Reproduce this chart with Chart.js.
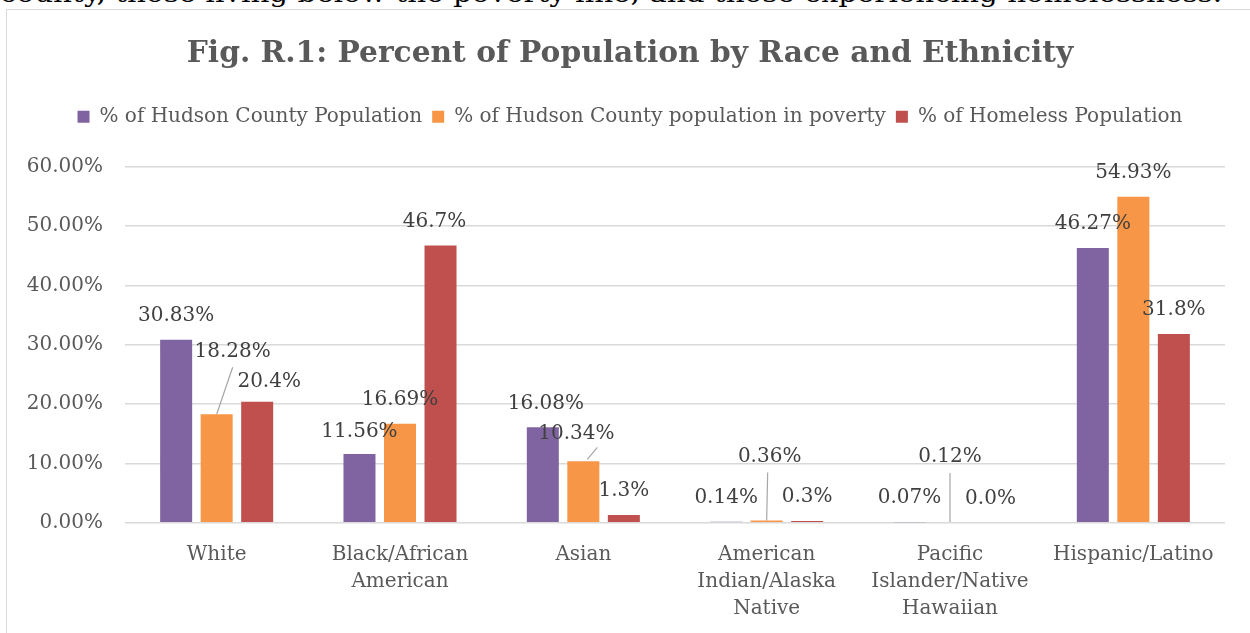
<!DOCTYPE html>
<html><head><meta charset="utf-8">
<script src="https://cdn.jsdelivr.net/npm/chart.js@4.4.1/dist/chart.umd.min.js"></script>
<style>
html,body{margin:0;padding:0;background:#fff;overflow:hidden;}
#wrap{position:relative;width:1250px;height:633px;overflow:hidden;}
#frame{position:absolute;left:6px;top:9px;width:1400px;height:800px;border:1.5px solid #d9d9d9;box-sizing:border-box;}
#lead{position:absolute;left:0;top:0;}
#c{position:absolute;left:0;top:0;}
</style></head><body>
<div id="wrap">
<svg id="lead" width="1250" height="20"><text x="0" y="2" font-family="DejaVu Serif" font-size="24" fill="#000" textLength="1222" lengthAdjust="spacingAndGlyphs">county, those living below the poverty line, and those experiencing homelessness.</text></svg>
<div id="frame"></div>
<canvas id="c" width="1250" height="633"></canvas>
</div>
<script>
const categories = [['White'], ['Black/African','American'], ['Asian'], ['American','Indian/Alaska','Native'], ['Pacific','Islander/Native','Hawaiian'], ['Hispanic/Latino']];
const seriesNames = ['% of Hudson County Population', '% of Hudson County population in poverty', '% of Homeless Population'];
const countyPct = [30.83, 11.56, 16.08, 0.14, 0.07, 46.27];
const povertyPct = [18.28, 16.69, 10.34, 0.36, 0.12, 54.93];
const homelessPct = [20.4, 46.7, 1.3, 0.3, 0.0, 31.8];
const labelDecimals = [2, 2, 1];
const yMin = 0, yMax = 60, yStep = 10;

const FONT = "'DejaVu Serif', serif";
const colors = ['#8064A2', '#F79646', '#C0504D'];

// label placement (pixel offsets from the bar top), not data
const labelPlacement = {
  def: [0, -24],
  custom: {'1-0':[16,-62], '2-0':[12,-20], '0-1':[0,-22], '2-1':[-6,-24], '0-2':[3,-23], '1-2':[-7,-28], '1-3':[3,-64], '1-4':[0,-65]},
  leaders: {'1-0':[[0,0],[16,-47]], '1-3':[[0,0],[1,-48]], '1-4':[[0,0],[0,-49]], '1-2':[[4,-2],[14,-14]]}
};

const barLabels = {
  id: 'barLabels',
  afterDatasetsDraw(chart) {
    const ctx = chart.ctx;
    ctx.save();
    ctx.font = "20px " + FONT;
    ctx.textAlign = 'center';
    ctx.textBaseline = 'middle';
    chart.data.datasets.forEach((ds, di) => {
      const meta = chart.getDatasetMeta(di);
      meta.data.forEach((el, i) => {
        const key = di + '-' + i;
        const off = labelPlacement.custom[key] || labelPlacement.def;
        const ld = labelPlacement.leaders[key];
        if (ld) {
          ctx.strokeStyle = '#a6a6a6';
          ctx.lineWidth = 1.2;
          ctx.beginPath();
          ctx.moveTo(el.x + ld[0][0], el.y + ld[0][1]);
          ctx.lineTo(el.x + ld[1][0], el.y + ld[1][1]);
          ctx.stroke();
        }
        ctx.fillStyle = '#404040';
        ctx.fillText(ds.data[i].toFixed(labelDecimals[di]) + '%', el.x + off[0], el.y + off[1]);
      });
    });
    ctx.restore();
  }
};

new Chart(document.getElementById('c'), {
  type: 'bar',
  data: {
    labels: categories,
    datasets: [
      {label: seriesNames[0], data: countyPct, backgroundColor: colors[0]},
      {label: seriesNames[1], data: povertyPct, backgroundColor: colors[1]},
      {label: seriesNames[2], data: homelessPct, backgroundColor: colors[2]}
    ]
  },
  options: {
    responsive: false,
    animation: false,
    devicePixelRatio: 1,
    categoryPercentage: 0.663,
    barPercentage: 0.79,
    layout: {padding: {left: 10, right: 0, top: 0, bottom: 0}},
    plugins: {
      title: {
        display: true,
        text: 'Fig. R.1: Percent of Population by Race and Ethnicity',
        color: '#595959',
        font: {family: FONT, size: 29.7, weight: 'bold', lineHeight: 1.2},
        padding: {top: 36.2, bottom: 25}
      },
      subtitle: {
        display: true, text: '', weight: 500,
        font: {size: 1, lineHeight: 1},
        padding: {top: 14, bottom: 14.8}
      },
      legend: {
        position: 'top',
        labels: {
          color: '#595959',
          font: {family: FONT, size: 20},
          boxWidth: 12, boxHeight: 12,
          padding: 10
        }
      },
      tooltip: {enabled: false}
    },
    scales: {
      x: {
        grid: {display: false, drawTicks: false},
        border: {display: false},
        ticks: {color: '#595959', font: {family: FONT, size: 20, lineHeight: 1.35}, padding: 19, maxRotation: 0, autoSkip: false},
        afterFit: s => { s.height = 110.3; }
      },
      y: {
        min: yMin, max: yMax,
        ticks: {stepSize: yStep, color: '#595959', font: {family: FONT, size: 20}, padding: 22,
          callback: v => v.toFixed(2) + '%'},
        grid: {color: '#d9d9d9', lineWidth: 1.4, drawTicks: false},
        border: {display: false},
        afterFit: s => { s.width = 115; }
      },
      yR: {
        position: 'right', display: true,
        grid: {display: false, drawTicks: false}, border: {display: false},
        ticks: {display: false},
        afterFit: s => { s.width = 25; }
      }
    }
  },
  plugins: [barLabels]
});
</script>
</body></html>
